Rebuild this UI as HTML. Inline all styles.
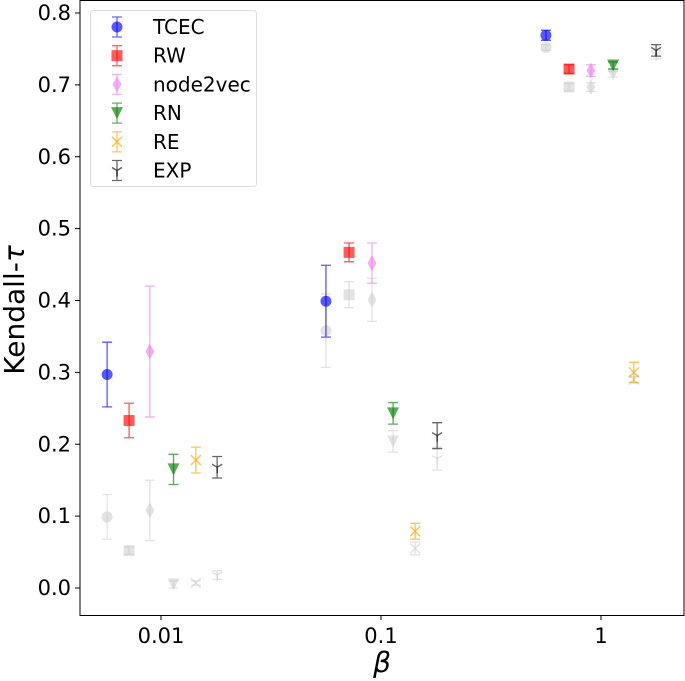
<!DOCTYPE html>
<html><head><meta charset="utf-8"><style>
html,body{margin:0;padding:0;background:#fff;}
svg{display:block;font-family:"DejaVu Sans","Liberation Sans",sans-serif;}
</style></head><body>
<svg id="chart" width="685" height="681"></svg>
<script>
const seriesNames = ["TCEC","RW","node2vec","RN","RE","EXP"];
const seriesColors = ["#0000ff","#ff0000","#ee82ee","#008000","#ffa500","#000000"];
const seriesMarkers = ["circle","square","diamond","tri","x","tri1"];
const betaTCEC = [0.00569,0.0562,0.562];
const betaRW = [0.00716,0.0716,0.716];
const betaN2V = [0.0089,0.091,0.90];
const betaRN = [0.0114,0.1135,1.135];
const betaRE = [0.0144,0.143,1.41];
const betaEXP = [0.018,0.18,1.78];
const tauTCEC = [0.297,0.399,0.769], errTCEC = [0.045,0.05,0.007];
const tauRW = [0.233,0.467,0.722], errRW = [0.024,0.013,0.006];
const tauN2V = [0.329,0.452,0.720], errN2V = [0.091,0.028,0.008];
const tauRN = [0.165,0.243,0.727], errRN = [0.021,0.015,0.005];
const tauRE = [0.178,0.079,0.300], errRE = [0.018,0.011,0.014];
const tauEXP = [0.168,0.212,0.748], errEXP = [0.015,0.018,0.008];
const baseTCEC = [0.099,0.358,0.752], bErrTCEC = [0.031,0.051,0.004];
const baseRW = [0.052,0.408,0.697], bErrRW = [0.005,0.018,0.005];
const baseN2V = [0.108,0.401,0.697], bErrN2V = [0.042,0.03,0.006];
const baseRN = [0.005,0.204,0.715], bErrRN = [0.005,0.015,0.004];
const baseRE = [0.007,0.055,0.29], bErrRE = [0.003,0.009,0.004];
const baseEXP = [0.018,0.18,0.742], bErrEXP = [0.006,0.016,0.006];
const yTicks = [0.0,0.1,0.2,0.3,0.4,0.5,0.6,0.7,0.8];
const yTickLabels = ["0.0","0.1","0.2","0.3","0.4","0.5","0.6","0.7","0.8"];
const xTicks = [0.01,0.1,1];
const xTickLabels = ["0.01","0.1","1"];

const NS="http://www.w3.org/2000/svg";
const svg=document.getElementById('chart');
const L=80,R=684,T=0,B=615;
const xs=b=>381+(Math.log10(b)+1)*220;
const ys=v=>588-v*(575/0.8);
function mk(tag,attrs,parent){const e=document.createElementNS(NS,tag);for(const k in attrs)e.setAttribute(k,attrs[k]);(parent||svg).appendChild(e);return e;}

const frame=mk('rect',{x:L,y:T+0.5,width:R-L,height:B-T,fill:'none',stroke:'#000','stroke-width':1});



yTicks.forEach((v,i)=>{
  const y=ys(v);
  const t=mk('line',{x1:L-5,x2:L,y1:y,y2:y,stroke:'#000'});
  
  
  const tx=mk('text',{x:L-9,y:y+7,'text-anchor':'end','font-size':21,fill:'#000'});
  tx.textContent=yTickLabels[i];
  
  
});
xTicks.forEach((v,i)=>{
  const x=xs(v);
  const t=mk('line',{x1:x,x2:x,y1:B,y2:B+5,stroke:'#000'});
  
  
  const tx=mk('text',{x:x,y:B+28,'text-anchor':'middle','font-size':21,fill:'#000'});
  tx.textContent=xTickLabels[i];
  
  
});
const yl=mk('text',{x:0,y:0,transform:'translate(24,310) rotate(-90)','text-anchor':'middle','font-size':28,fill:'#000'});
yl.innerHTML='Kendall-<tspan font-style="italic">τ</tspan>';


const xl=mk('text',{x:382,y:672,'text-anchor':'middle','font-size':28,'font-style':'italic',fill:'#000'});
xl.textContent='β';



function marker(g,type,x,y,c,op){
  if(type==='circle') mk('circle',{cx:x,cy:y,r:5.5,fill:c,'fill-opacity':op},g);
  else if(type==='square') mk('rect',{x:x-5.5,y:y-5.5,width:11,height:11,fill:c,'fill-opacity':op},g);
  else if(type==='diamond') mk('polygon',{points:`${x},${y-8} ${x+4.5},${y} ${x},${y+8} ${x-4.5},${y}`,fill:c,'fill-opacity':op},g);
  else if(type==='tri') mk('polygon',{points:`${x-6},${y-6} ${x+6},${y-6} ${x},${y+6}`,fill:c,'fill-opacity':op},g);
  else if(type==='x'){mk('path',{d:`M${x-5},${y-5}L${x+5},${y+5}M${x-5},${y+5}L${x+5},${y-5}`,stroke:c,'stroke-opacity':op,'stroke-width':1.5},g);}
  else {mk('path',{d:`M${x},${y}L${x},${y+6}M${x},${y}L${x-5},${y-3}M${x},${y}L${x+5},${y-3}`,stroke:c,'stroke-opacity':op,'stroke-width':1.5},g);}
}
function errPoint(name,b,v,e,c,type,op){
  const g=mk('g',{});
  
  
  const x=xs(b),y1=ys(v-e),y2=ys(v+e),y=ys(v);
  mk('path',{d:`M${x},${y1}L${x},${y2}M${x-5},${y1}L${x+5},${y1}M${x-5},${y2}L${x+5},${y2}`,stroke:c,'stroke-opacity':op,'stroke-width':1.3,fill:'none'},g);
  marker(g,type,x,y,c,op);
}
const betas=[betaTCEC,betaRW,betaN2V,betaRN,betaRE,betaEXP];
const taus=[tauTCEC,tauRW,tauN2V,tauRN,tauRE,tauEXP];
const errs=[errTCEC,errRW,errN2V,errRN,errRE,errEXP];
const bases=[baseTCEC,baseRW,baseN2V,baseRN,baseRE,baseEXP];
const bErrs=[bErrTCEC,bErrRW,bErrN2V,bErrRN,bErrRE,bErrEXP];
for(let s=0;s<6;s++)for(let i=0;i<3;i++)
  errPoint('baseline-'+seriesNames[s].toLowerCase()+'-point',betas[s][i],bases[s][i],bErrs[s][i],'#c8c8c8',seriesMarkers[s],0.5);
for(let s=0;s<6;s++)for(let i=0;i<3;i++)
  errPoint(seriesNames[s].toLowerCase()+'-point',betas[s][i],taus[s][i],errs[s][i],seriesColors[s],seriesMarkers[s],s==5?0.6:0.65);

const lg=mk('g',{});


mk('rect',{x:90.5,y:10.5,width:166,height:176,rx:3,fill:'#fff',stroke:'#ddd'},lg);
seriesNames.forEach((n,i)=>{
  const y=27+i*28.7;
  const e=mk('g',{},lg);
  
  
  const x=117;
  mk('path',{d:`M${x},${y-10}L${x},${y+10}M${x-5},${y-10}L${x+5},${y-10}M${x-5},${y+10}L${x+5},${y+10}`,stroke:seriesColors[i],'stroke-opacity':0.6,'stroke-width':1.3},e);
  marker(e,seriesMarkers[i],x,y,seriesColors[i],0.65);
  const t=mk('text',{x:153,y:y+7,'font-size':20,fill:'#000'},e);
  t.textContent=n;
});
</script>
</body></html>
